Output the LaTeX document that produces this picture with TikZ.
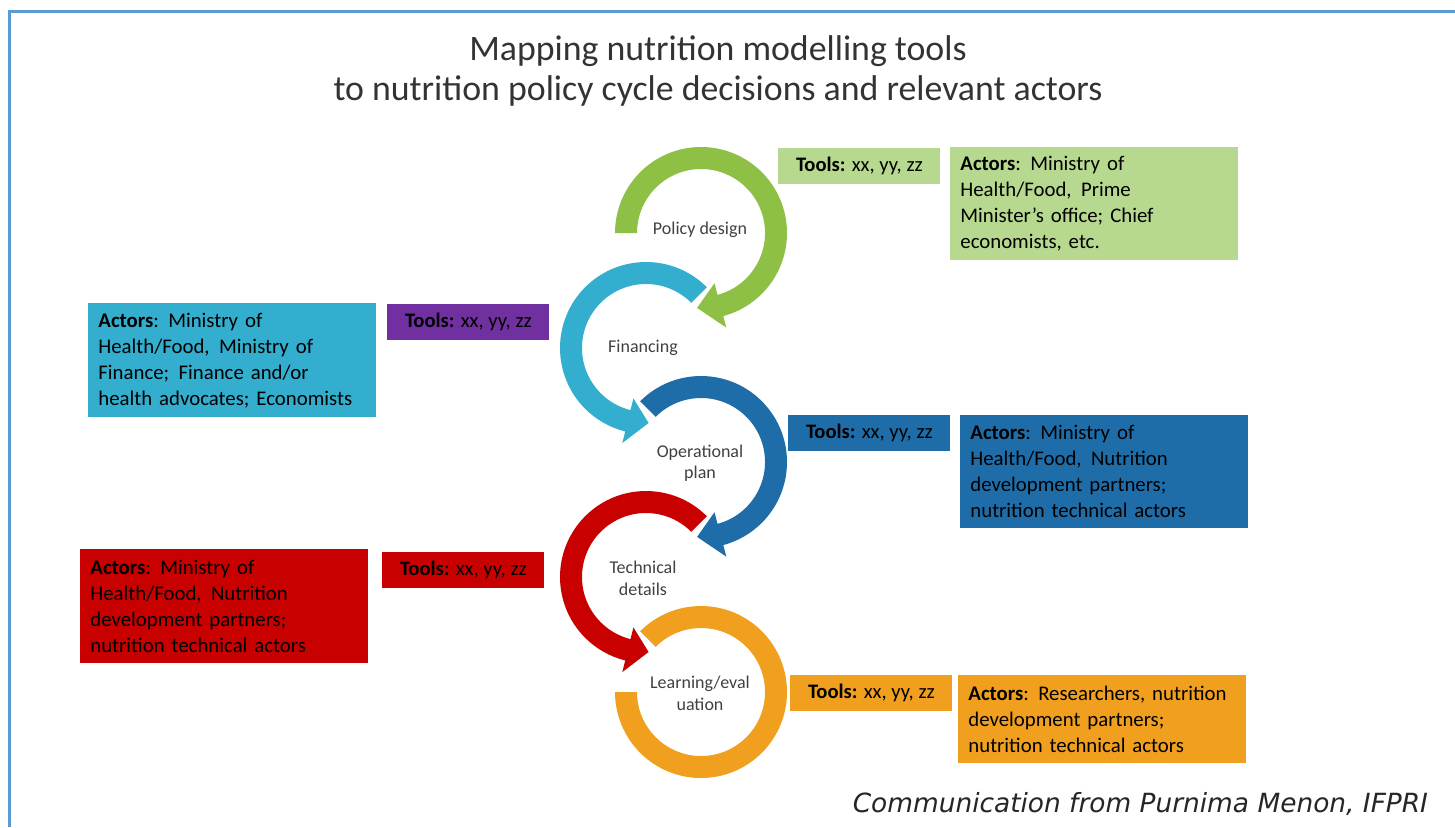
\documentclass[tikz,border=0pt]{standalone}
\usepackage{fontspec}
\setmainfont{Carlito}
\newfontfamily\notefont{DejaVu Sans}
\usetikzlibrary{calc}

\definecolor{cgreen}{HTML}{8DC044}
\definecolor{cgreenbox}{HTML}{B7D88F}
\definecolor{ccyan}{HTML}{33AECE}
\definecolor{cpurple}{HTML}{7030A0}
\definecolor{cblue}{HTML}{1F6DA8}
\definecolor{cred}{HTML}{C80000}
\definecolor{corange}{HTML}{F0A01E}
\definecolor{cframe}{HTML}{5B9BD5}

% ring with head: centre, start, base of head, tip, colour
\newcommand{\cyclearrow}[5]{%
  \fill[#5] ($(#1)+(#2:86)$) arc[start angle=#2, end angle=#3, radius=86]
    -- ($(#1)+(#3:98)$) -- ($(#1)+(#4:75)$) -- ($(#1)+(#3:52)$) -- ($(#1)+(#3:64)$)
    arc[start angle=#3, end angle=#2, radius=64] -- cycle;}
\newcommand{\gap}{\hspace{0.45em}}

\begin{document}
\begin{tikzpicture}[x=0.5pt, y=0.5pt,
  tools/.style={fill=#1, minimum width=81pt, minimum height=18pt, inner sep=0pt, anchor=north west, font=\fontsize{10.3}{12}\selectfont},
  actors/.style={fill=#1, text width=134pt, inner xsep=5pt, inner ysep=0pt, align=left, anchor=north west, font=\fontsize{10.4}{13}\selectfont},
  stage/.style={text=black!75, align=center, font=\fontsize{9}{10.8}\selectfont}]

\useasboundingbox (0,0) rectangle (1455,-827);
% frame
\draw[cframe, line width=1.5pt] (1455,-11) -- (9,-11) -- (9,-827);

% title
\node[align=center, text=black!80, font=\fontsize{17.9}{20}\selectfont] (title) at (718,-71)
  {Mapping nutrition modelling tools\\to nutrition policy cycle decisions and relevant actors};

% Define cycle centres
\coordinate (pd) at (701,-233);
\coordinate (fin) at (646,-348);
\coordinate (op) at (701,-462);
\coordinate (tech) at (646,-577);
\coordinate (learn) at (701,-692);

\cyclearrow{pd}{180}{-75}{-93}{cgreen}
\cyclearrow{fin}{45}{256}{272}{ccyan}
\cyclearrow{op}{135}{-75}{-93}{cblue}
\cyclearrow{tech}{45}{256}{272}{cred}
\fill[corange] ($(learn)+(135:86)$) arc[start angle=135, end angle=-180, radius=86]
  -- ($(learn)+(180:64)$) arc[start angle=-180, end angle=135, radius=64] -- cycle;

\node[stage] (pdlab) at (700,-230) {Policy design};
\node[stage] (finlab) at (643,-348) {Financing};
\node[stage] (oplab) at (700,-463) {Operational\\plan};
\node[stage] (techlab) at (643,-578) {Technical\\details};
\node[stage] (learnlab) at (700,-693) {Learning/eval\\uation};

% tools and actors
\node[tools=cgreenbox] (pdtools) at (778,-148) {\textbf{Tools:} xx, yy, zz};
\node[actors=cgreenbox, minimum height=56.5pt] (pdact) at (950,-147)
  {\textbf{Actors}:\gap Ministry of\\Health/Food,\gap Prime\\Minister's office; Chief\\economists, etc.};

\node[tools=cpurple] (fintools) at (387,-304) {\textbf{Tools:} xx, yy, zz};
\node[actors=ccyan, minimum height=57pt] (finact) at (88,-303)
  {\textbf{Actors}:\gap Ministry of\\Health/Food,\gap Ministry of\\Finance;\gap Finance and/or\\health advocates; Economists};

\node[tools=cblue] (optools) at (788,-415) {\textbf{Tools:} xx, yy, zz};
\node[actors=cblue, minimum height=56.5pt] (opact) at (960,-415)
  {\textbf{Actors}:\gap Ministry of\\Health/Food,\gap Nutrition\\development partners;\\nutrition technical actors};

\node[tools=cred] (techtools) at (382,-552) {\textbf{Tools:} xx, yy, zz};
\node[actors=cred, minimum height=57pt] (techact) at (80,-549)
  {\textbf{Actors}:\gap Ministry of\\Health/Food,\gap Nutrition\\development partners;\\nutrition technical actors};

\node[tools=corange] (learntools) at (790,-675) {\textbf{Tools:} xx, yy, zz};
\node[actors=corange, minimum height=44pt] (learnact) at (958,-675)
  {\textbf{Actors}:\gap Researchers, nutrition\\development partners;\\nutrition technical actors};

\node[anchor=east, text=black!85, font=\notefont\itshape\fontsize{13.2}{15}\selectfont] (credit) at (1435,-804)
  {Communication from Purnima Menon, IFPRI};

\end{tikzpicture}
\end{document}
